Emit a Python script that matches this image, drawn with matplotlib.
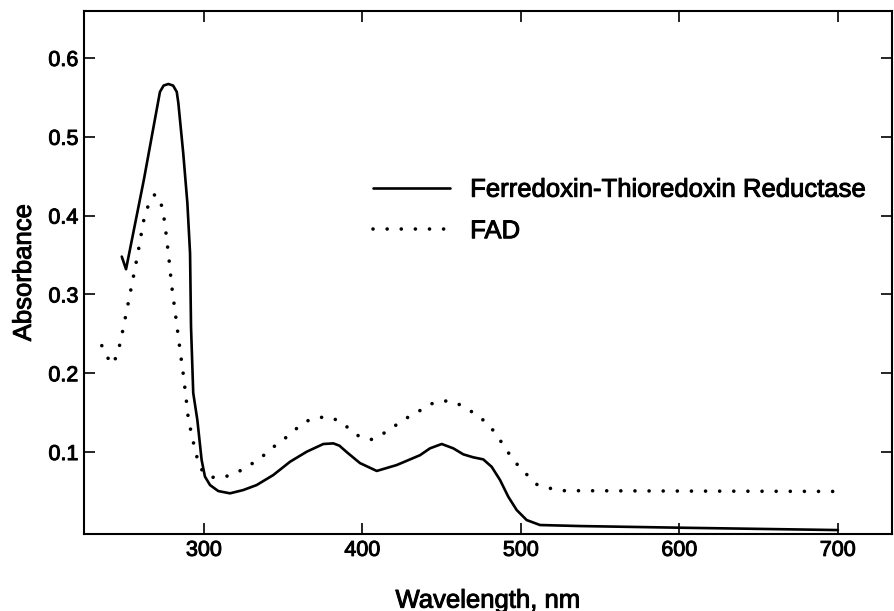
import numpy as np
import matplotlib
matplotlib.use('Agg')
import matplotlib.pyplot as plt
import matplotlib.patheffects as pe

plt.rcParams['font.family'] = ['Liberation Sans', 'DejaVu Sans']

# Ferredoxin-Thioredoxin Reductase spectrum
ftr_wl = [248.1, 250.8, 262.0, 272.2, 274.5, 277.5, 280.5, 282.8, 283.8, 286.9,
          289.5, 291.2, 291.8, 293.2, 295.8, 298.5, 300.6, 303.8, 309.0, 316.4,
          324.8, 333.2, 343.7, 354.3, 364.8, 375.3, 381.6, 385.5, 390.0, 398.4,
          409.0, 421.6, 436.3, 442.6, 450.0, 457.3, 463.6, 469.9, 476.2, 481.5,
          486.8, 492.0, 497.3, 503.6, 512.0, 537.2, 600.0, 700.0]
ftr_abs = [0.348, 0.332, 0.445, 0.557, 0.565, 0.567, 0.565, 0.557, 0.543, 0.479,
           0.416, 0.352, 0.259, 0.175, 0.1406, 0.0898, 0.0688, 0.0581, 0.0505, 0.0476,
           0.0518, 0.0581, 0.0708, 0.0877, 0.1004, 0.1102, 0.111, 0.108, 0.100, 0.086,
           0.076, 0.0835, 0.096, 0.1047, 0.1102, 0.1047, 0.0971, 0.0933, 0.0907, 0.0813,
           0.0645, 0.0433, 0.0264, 0.0137, 0.0074, 0.0061, 0.004, 0.001]

# FAD spectrum
fad_wl = [235.5, 238.5, 242.0, 245.0, 247.2, 251.2, 255.4, 257.5, 259.6, 261.7,
          263.4, 266.0, 269.1, 272.0, 274.3, 276.0, 277.9, 279.6, 282.1, 284.9,
          286.9, 288.6, 290.1, 293.2, 296.4, 299.6, 305.5, 312.6, 319.1, 325.9,
          332.2, 338.5, 345.4, 352.8, 358.5, 364.4, 372.1, 379.5, 387.1, 392.7,
          398.9, 405.6, 412.4, 418.2, 423.8, 428.6, 435.1, 440.8, 447.1, 454.5,
          461.5, 468.3, 473.4, 478.4, 483.5, 486.8, 490.7, 494.3, 499.8, 505.3,
          509.9, 518.3, 526.5, 600.0, 703.4]
fad_abs = [0.235, 0.222, 0.211, 0.222, 0.239, 0.279, 0.322, 0.344, 0.367, 0.392,
           0.404, 0.420, 0.427, 0.422, 0.404, 0.378, 0.345, 0.311, 0.273, 0.229,
           0.199, 0.170, 0.142, 0.113, 0.0864, 0.0737, 0.068, 0.068, 0.073, 0.079,
           0.088, 0.097, 0.109, 0.120, 0.130, 0.139, 0.144, 0.144, 0.138, 0.127,
           0.1186, 0.116, 0.1225, 0.130, 0.138, 0.144, 0.151, 0.159, 0.164, 0.165,
           0.160, 0.152, 0.145, 0.137, 0.125, 0.115, 0.104, 0.0915, 0.0797, 0.068,
           0.059, 0.054, 0.051, 0.0505, 0.050]

xticks = [300, 400, 500, 600, 700]
yticks = [0.1, 0.2, 0.3, 0.4, 0.5, 0.6]

# scanned print looks heavier than plain regular weight
thick = [pe.withStroke(linewidth=0.7, foreground='black')]

fig = plt.figure(figsize=(8.95, 6.11), dpi=100)
ax = fig.add_axes([0.0939, 0.1255, 0.9027, 0.857])

ax.plot(ftr_wl, ftr_abs, color='black', lw=1.9, solid_capstyle='round',
        solid_joinstyle='round', label='Ferredoxin-Thioredoxin Reductase')
ax.plot(fad_wl, fad_abs, color='black', lw=2.6, linestyle=(0, (0.01, 3.9)),
        dash_capstyle='round', label='FAD')

ax.set_xlim(224.3, 734.1)
ax.set_ylim(-0.0044, 0.660)
ax.set_xticks(xticks)
ax.set_yticks(yticks)
ax.set_xticklabels([str(t) for t in xticks])
ax.set_yticklabels(['%.1f' % t for t in yticks])
ax.tick_params(direction='in', length=8, width=1.2, labelsize=15.5,
               top=True, right=True, pad=4)
for lab in ax.get_xticklabels() + ax.get_yticklabels():
    lab.set_path_effects(thick)
for s in ax.spines.values():
    s.set_linewidth(1.5)

ax.set_xlabel('Wavelength, nm', fontsize=18.5, labelpad=20, path_effects=thick)
ax.set_ylabel('Absorbance', fontsize=18.5, labelpad=9, path_effects=thick)

leg = ax.legend(loc='upper left', bbox_to_anchor=(0.3577, 0.681), frameon=False,
                fontsize=18.5, handlelength=3.0, handletextpad=0.78,
                borderpad=0, borderaxespad=0, labelspacing=0.68)
for t in leg.get_texts():
    t.set_path_effects(thick)

fig.savefig('out.png', dpi=100)
